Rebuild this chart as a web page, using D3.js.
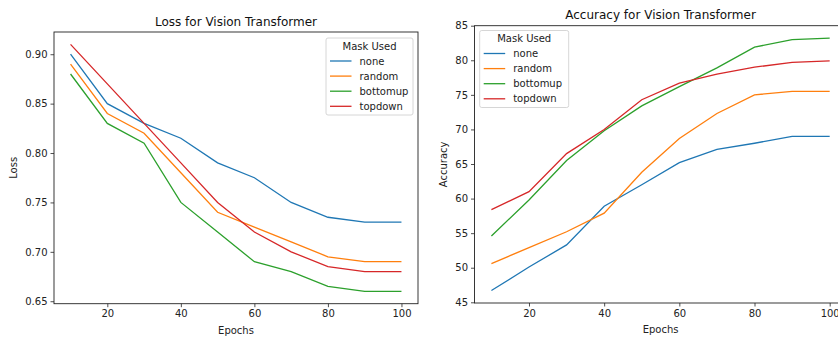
<!DOCTYPE html>
<html>
<head>
<meta charset="utf-8">
<script src="https://cdn.jsdelivr.net/npm/d3@7"></script>
<style>
  body { margin: 0; background: #fff; }
  svg { display: block; font-family: "DejaVu Sans", sans-serif; }
</style>
</head>
<body>
<svg id="chart" width="838" height="337"></svg>
<script>
// DATA
const epochs = [10, 20, 30, 40, 50, 60, 70, 80, 90, 100];
const masks = ["none", "random", "bottomup", "topdown"];
const colors = ["#1f77b4", "#ff7f0e", "#2ca02c", "#d62728"];

const lossNone = [0.90, 0.85, 0.83, 0.815, 0.79, 0.775, 0.75, 0.735, 0.73, 0.73];
const lossRandom = [0.89, 0.84, 0.82, 0.78, 0.74, 0.725, 0.71, 0.695, 0.69, 0.69];
const lossBottomup = [0.88, 0.83, 0.81, 0.75, 0.72, 0.69, 0.68, 0.665, 0.66, 0.66];
const lossTopdown = [0.91, 0.87, 0.83, 0.79, 0.75, 0.72, 0.70, 0.685, 0.68, 0.68];

const accNone = [46.7, 50.1, 53.3, 58.9, 62.0, 65.2, 67.1, 68.0, 69.0, 69.0];
const accRandom = [50.6, 52.9, 55.2, 57.9, 63.8, 68.7, 72.3, 75.0, 75.5, 75.5];
const accBottomup = [54.6, 59.8, 65.5, 69.8, 73.4, 76.2, 78.9, 81.9, 83.0, 83.2];
const accTopdown = [58.4, 61.0, 66.5, 70.0, 74.3, 76.7, 78.0, 79.0, 79.7, 79.9];

const xTicks = [20, 40, 60, 80, 100];
const lossTicks = [0.65, 0.70, 0.75, 0.80, 0.85, 0.90];
const accTicks = [45, 50, 55, 60, 65, 70, 75, 80, 85];

const svg = d3.select("#chart");
const fs = 10;

function drawPanel(opt) {
  const g = svg.append("g");
  const x = d3.scaleLinear().domain([5.5, 104.5]).range([opt.left, opt.right]);
  const y = d3.scaleLinear().domain(opt.yDomain).range([opt.bottom, opt.top]);

  // lines
  const line = d3.line().x((d, i) => x(epochs[i])).y(d => y(d));
  opt.series.forEach((s, i) => {
    g.append("path")
      .datum(s)
      .attr("d", line)
      .attr("fill", "none")
      .attr("stroke", colors[i])
      .attr("stroke-width", 1.3);
  });

  // axes
  const xAxis = d3.axisBottom(x).tickValues(xTicks).tickSize(3.5).tickPadding(3)
    .tickFormat(d3.format("d"));
  const yAxis = d3.axisLeft(y).tickValues(opt.yTicks).tickSize(3.5).tickPadding(3)
    .tickFormat(opt.yFormat);

  const gx = g.append("g").attr("transform", `translate(0,${opt.bottom})`).call(xAxis);
  const gy = g.append("g").attr("transform", `translate(${opt.left},0)`).call(yAxis);
  [gx, gy].forEach(a => {
    a.select(".domain").remove();
    a.selectAll("line").attr("stroke", "#222").attr("stroke-width", 0.8);
    a.selectAll("text").attr("font-size", fs).attr("fill", "#222")
      .attr("font-family", "DejaVu Sans, sans-serif");
  });

  // frame
  g.append("rect")
    .attr("x", opt.left).attr("y", opt.top)
    .attr("width", opt.right - opt.left).attr("height", opt.bottom - opt.top)
    .attr("fill", "none").attr("stroke", "#222").attr("stroke-width", 0.9);

  // title and labels
  g.append("text")
    .attr("x", (opt.left + opt.right) / 2).attr("y", opt.top - 6.5)
    .attr("text-anchor", "middle").attr("font-size", 12).attr("fill", "#111")
    .text(opt.title);
  g.append("text")
    .attr("x", (opt.left + opt.right) / 2).attr("y", opt.bottom + 30)
    .attr("text-anchor", "middle").attr("font-size", fs).attr("fill", "#222")
    .text("Epochs");
  g.append("text")
    .attr("transform", `translate(${opt.ylabelX},${(opt.top + opt.bottom) / 2}) rotate(-90)`)
    .attr("text-anchor", "middle").attr("font-size", fs).attr("fill", "#222")
    .text(opt.ylabel);

  // legend
  const lg = g.append("g").attr("transform", `translate(${opt.legX},${opt.legY})`);
  lg.append("rect")
    .attr("width", opt.legW).attr("height", 77).attr("rx", 2)
    .attr("fill", "#fff").attr("fill-opacity", 0.8)
    .attr("stroke", "#ccc").attr("stroke-width", 0.8);
  lg.append("text")
    .attr("x", opt.legW / 2).attr("y", 11.5)
    .attr("text-anchor", "middle").attr("font-size", fs).attr("fill", "#222")
    .text("Mask Used");
  masks.forEach((m, i) => {
    const yy = 23 + i * 15.1;
    lg.append("line")
      .attr("x1", 4).attr("x2", 25.5).attr("y1", yy).attr("y2", yy)
      .attr("stroke", colors[i]).attr("stroke-width", 1.3);
    lg.append("text")
      .attr("x", 33.5).attr("y", yy + 3.5)
      .attr("font-size", fs).attr("fill", "#222")
      .text(m);
  });
}

drawPanel({
  left: 54, right: 418, top: 32, bottom: 303.7,
  yDomain: [0.6475, 0.9225], yTicks: lossTicks, yFormat: d3.format(".2f"),
  series: [lossNone, lossRandom, lossBottomup, lossTopdown],
  title: "Loss for Vision Transformer", ylabel: "Loss", ylabelX: 17,
  legX: 326, legY: 38, legW: 87
});

drawPanel({
  left: 474.5, right: 846.6, top: 25.7, bottom: 303,
  yDomain: [44.9, 85.0], yTicks: accTicks, yFormat: d3.format("d"),
  series: [accNone, accRandom, accBottomup, accTopdown],
  title: "Accuracy for Vision Transformer", ylabel: "Accuracy", ylabelX: 447,
  legX: 479.7, legY: 30.5, legW: 89
});
</script>
</body>
</html>
